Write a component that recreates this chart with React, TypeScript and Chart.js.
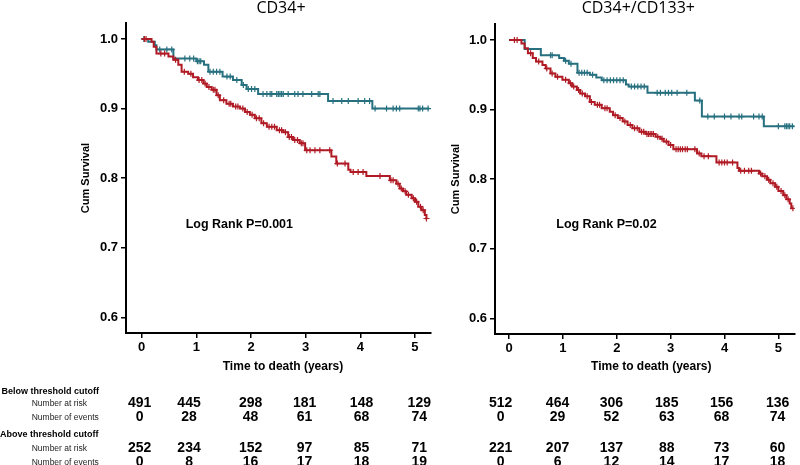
import React, { useEffect, useRef } from "react";
import { Chart, registerables } from "chart.js";

Chart.register(...registerables);

// ---------- axes ----------
const YEAR_TICKS = [0, 1, 2, 3, 4, 5];
const SURV_TICKS = [0.6, 0.7, 0.8, 0.9, 1.0];

// ---------- CD34+ : below threshold (red) ----------
const CD34_BELOW_TIMES = [0.18, 0.22, 0.27, 0.49, 0.58, 0.67, 0.73, 0.85, 0.94, 1.03, 1.13, 1.19, 1.28, 1.37, 1.43, 1.55, 1.67, 1.8, 1.89, 1.98, 2.07, 2.19, 2.29, 2.47, 2.59, 2.68, 2.77, 2.89, 2.99, 3.47, 3.56, 3.78, 3.82, 4.11, 4.54, 4.66, 4.72, 4.78, 4.84, 4.94, 5.0, 5.06, 5.12, 5.18, 5.21];
const CD34_BELOW_SURV = [0.996, 0.989, 0.979, 0.975, 0.97, 0.963, 0.953, 0.95, 0.945, 0.941, 0.936, 0.931, 0.927, 0.919, 0.912, 0.907, 0.903, 0.9, 0.895, 0.891, 0.886, 0.879, 0.874, 0.869, 0.866, 0.859, 0.855, 0.85, 0.84, 0.831, 0.821, 0.812, 0.809, 0.803, 0.797, 0.792, 0.785, 0.781, 0.776, 0.771, 0.766, 0.759, 0.754, 0.747, 0.742];
const CD34_BELOW_CENSOR = [0.05, 0.08, 0.35, 0.42, 0.62, 0.78, 0.9, 1.05, 1.1, 1.16, 1.23, 1.31, 1.34, 1.4, 1.5, 1.6, 1.63, 1.72, 1.76, 1.85, 1.93, 2.02, 2.1, 2.15, 2.23, 2.33, 2.38, 2.43, 2.52, 2.56, 2.63, 2.7, 2.74, 2.8, 2.85, 2.92, 2.95, 3.02, 3.08, 3.17, 3.26, 3.44, 3.58, 3.72, 3.87, 3.96, 4.05, 4.36, 4.56, 4.6, 4.69, 4.75, 4.82, 4.88, 4.97, 5.03, 5.1, 5.15, 5.21];
const CD34_BELOW_END = 5.22;

// ---------- CD34+ : above threshold (teal) ----------
const CD34_ABOVE_TIMES = [0.12, 0.24, 0.27, 0.58, 1.0, 1.14, 1.22, 1.48, 1.67, 1.83, 1.92, 2.13, 3.41, 4.22];
const CD34_ABOVE_SURV = [0.996, 0.991, 0.985, 0.972, 0.968, 0.963, 0.953, 0.946, 0.941, 0.934, 0.928, 0.921, 0.911, 0.9];
const CD34_ABOVE_CENSOR = [0.04, 0.33, 0.46, 0.55, 0.79, 0.88, 0.95, 1.02, 1.05, 1.08, 1.25, 1.31, 1.37, 1.43, 1.56, 1.62, 1.74, 1.86, 1.95, 2.01, 2.07, 2.22, 2.29, 2.35, 2.38, 2.47, 2.5, 2.53, 2.56, 2.59, 2.68, 2.8, 2.86, 2.95, 3.11, 3.23, 3.26, 3.5, 3.66, 3.78, 3.96, 4.08, 4.17, 4.27, 4.48, 4.6, 4.66, 4.72, 5.06, 5.09, 5.14, 5.24];
const CD34_ABOVE_END = 5.26;

// ---------- CD34+/CD133+ : below threshold (red) ----------
const CD133_BELOW_TIMES = [0.23, 0.29, 0.35, 0.44, 0.5, 0.62, 0.68, 0.77, 0.86, 0.99, 1.11, 1.17, 1.26, 1.32, 1.41, 1.5, 1.59, 1.72, 1.87, 1.93, 2.02, 2.11, 2.2, 2.29, 2.42, 2.54, 2.72, 2.81, 2.87, 2.96, 3.05, 3.49, 3.57, 3.85, 4.24, 4.27, 4.64, 4.7, 4.79, 4.85, 4.94, 5.0, 5.09, 5.15, 5.21, 5.24];
const CD133_BELOW_SURV = [0.995, 0.988, 0.981, 0.974, 0.969, 0.964, 0.959, 0.952, 0.947, 0.943, 0.938, 0.933, 0.928, 0.923, 0.919, 0.911, 0.907, 0.902, 0.897, 0.892, 0.888, 0.883, 0.878, 0.873, 0.868, 0.865, 0.861, 0.858, 0.854, 0.849, 0.843, 0.837, 0.833, 0.824, 0.816, 0.812, 0.808, 0.804, 0.799, 0.794, 0.789, 0.783, 0.777, 0.771, 0.765, 0.758];
const CD133_BELOW_CENSOR = [0.1, 0.15, 0.4, 0.55, 0.7, 0.8, 0.9, 1.05, 1.14, 1.2, 1.29, 1.36, 1.45, 1.53, 1.64, 1.68, 1.78, 1.82, 1.97, 2.06, 2.15, 2.25, 2.33, 2.38, 2.46, 2.5, 2.56, 2.59, 2.62, 2.65, 2.68, 2.76, 2.84, 2.92, 3.0, 3.1, 3.14, 3.18, 3.22, 3.27, 3.31, 3.45, 3.53, 3.62, 3.7, 3.9, 3.95, 4.0, 4.05, 4.15, 4.3, 4.37, 4.45, 4.5, 4.67, 4.75, 4.82, 4.9, 4.97, 5.05, 5.12, 5.18, 5.27];
const CD133_BELOW_END = 5.27;

// ---------- CD34+/CD133+ : above threshold (teal) ----------
const CD133_ABOVE_TIMES = [0.29, 0.59, 0.93, 1.02, 1.11, 1.27, 1.5, 1.62, 1.72, 2.17, 2.22, 2.57, 3.45, 3.58, 4.73];
const CD133_ABOVE_SURV = [0.987, 0.978, 0.974, 0.97, 0.966, 0.953, 0.95, 0.946, 0.942, 0.936, 0.933, 0.924, 0.913, 0.89, 0.876];
const CD133_ABOVE_CENSOR = [0.77, 0.8, 1.05, 1.15, 1.3, 1.35, 1.4, 1.45, 1.55, 1.76, 1.82, 1.88, 1.94, 2.0, 2.06, 2.12, 2.27, 2.33, 2.39, 2.45, 2.51, 2.75, 2.81, 2.9, 2.96, 3.02, 3.12, 3.3, 3.54, 3.69, 3.81, 4.0, 4.12, 4.27, 4.32, 4.54, 4.64, 4.7, 5.0, 5.12, 5.15, 5.18, 5.21, 5.26];
const CD133_ABOVE_END = 5.3;

// ---------- numbers at risk / events ----------
const CD34_BELOW_AT_RISK = [491, 445, 298, 181, 148, 129];
const CD34_BELOW_EVENTS = [0, 28, 48, 61, 68, 74];
const CD34_ABOVE_AT_RISK = [252, 234, 152, 97, 85, 71];
const CD34_ABOVE_EVENTS = [0, 8, 16, 17, 18, 19];
const CD133_BELOW_AT_RISK = [512, 464, 306, 185, 156, 136];
const CD133_BELOW_EVENTS = [0, 29, 52, 63, 68, 74];
const CD133_ABOVE_AT_RISK = [221, 207, 137, 88, 73, 60];
const CD133_ABOVE_EVENTS = [0, 6, 12, 14, 17, 18];

const GROUP_LABELS = ["Below threshold cutoff", "Above threshold cutoff"];
const ROW_LABELS = ["Number at risk", "Number of events"];

const RED = "#b01a24";
const TEAL = "#27707f";
const SANS = '"Liberation Sans", Arial, sans-serif';

function survivalAt(times: number[], surv: number[], t: number) {
  let s = 1;
  for (let i = 0; i < times.length; i++) {
    if (times[i] <= t) s = surv[i];
    else break;
  }
  return s;
}

function curve(times: number[], surv: number[], end: number) {
  const pts = [{ x: 0, y: 1 }];
  times.forEach((t, i) => pts.push({ x: t, y: surv[i] }));
  pts.push({ x: end, y: surv[surv.length - 1] });
  return pts;
}

function censors(times: number[], surv: number[], cens: number[]) {
  return cens.map((c) => ({ x: c, y: survivalAt(times, surv, c) }));
}

type KMProps = {
  id: string;
  left: number;
  width: number;
  yWidth: number;
  padTop: number;
  padRight: number;
  xMin: number;
  xMax: number;
  yTitlePad: number;
  title: string;
  titleX: number;
  xTitleX: number;
  xTitleY: number;
  logRank: string;
  logRankAt: [number, number];
  below: [number[], number[], number[], number];
  above: [number[], number[], number[], number];
  table: number[][];
  colShift: number[];
  rowLabels: boolean;
};

function KMChart(p: KMProps) {
  const ref = useRef<HTMLCanvasElement | null>(null);
  useEffect(() => {
    if (!ref.current) return;
    const textPlugin = {
      id: "kmText" + p.id,
      afterDraw(chart: any) {
        const ctx = chart.ctx as CanvasRenderingContext2D;
        const xs = chart.scales.x;
        const ys = chart.scales.y;
        ctx.save();
        ctx.fillStyle = "#000";
        ctx.textBaseline = "alphabetic";
        ctx.textAlign = "center";
        ctx.font = '16px "Open Sans", sans-serif';
        ctx.fillText(p.title, p.titleX, 12.5);
        ctx.font = "bold 12px " + SANS;
        ctx.fillText("Time to death (years)", p.xTitleX, p.xTitleY);
        ctx.textAlign = "left";
        ctx.font = "bold 12.5px " + SANS;
        ctx.fillText(p.logRank, xs.getPixelForValue(p.logRankAt[0]), ys.getPixelForValue(p.logRankAt[1]));

        // table of numbers
        const rowY = [406.7, 420.7, 451.7, 466];
        ctx.textAlign = "center";
        ctx.font = "bold 14px " + SANS;
        p.table.forEach((row, r) => {
          row.forEach((v, i) => {
            ctx.fillText(String(v), xs.getPixelForValue(YEAR_TICKS[i]) + p.colShift[i], rowY[r]);
          });
        });

        if (p.rowLabels) {
          ctx.textAlign = "left";
          ctx.font = "bold 9px " + SANS;
          ctx.fillText(GROUP_LABELS[0], 1.5, 393.5);
          ctx.fillText(GROUP_LABELS[1], 0, 436.7);
          ctx.font = "8.5px " + SANS;
          ctx.fillStyle = "#222";
          ctx.fillText(ROW_LABELS[0], 31.7, 406.2);
          ctx.fillText(ROW_LABELS[1], 31.7, 420.3);
          ctx.fillText(ROW_LABELS[0], 31.7, 451);
          ctx.fillText(ROW_LABELS[1], 31.7, 465);
        }
        ctx.restore();
      },
    };

    const [bT, bS, bC, bE] = p.below;
    const [aT, aS, aC, aE] = p.above;
    const tickFont = { family: SANS, size: 13, weight: "bold" as const };
    const grid = { display: true, drawOnChartArea: false, drawTicks: true, tickLength: 5, color: "#000", lineWidth: 1.5 };
    const border = { display: true, color: "#000", width: 2 };

    const chart = new Chart(ref.current, {
      type: "line",
      data: {
        datasets: [
          { data: curve(bT, bS, bE), borderColor: RED, borderWidth: 2, stepped: "before", pointRadius: 0, fill: false },
          { data: censors(bT, bS, bC), showLine: false, pointStyle: "cross", pointRadius: 3, borderColor: RED, backgroundColor: RED, borderWidth: 1.2 },
          { data: curve(aT, aS, aE), borderColor: TEAL, borderWidth: 2, stepped: "before", pointRadius: 0, fill: false },
          { data: censors(aT, aS, aC), showLine: false, pointStyle: "cross", pointRadius: 3, borderColor: TEAL, backgroundColor: TEAL, borderWidth: 1.2 },
        ] as any,
      },
      options: {
        animation: false,
        responsive: false,
        maintainAspectRatio: false,
        layout: { padding: { top: p.padTop, bottom: 465 - p.padTop - 310 - 30, left: 0, right: p.padRight } },
        plugins: { legend: { display: false }, tooltip: { enabled: false }, title: { display: false } },
        scales: {
          x: {
            type: "linear",
            min: p.xMin,
            max: p.xMax,
            afterBuildTicks: (s: any) => {
              s.ticks = YEAR_TICKS.map((v) => ({ value: v }));
            },
            afterFit: (s: any) => {
              s.height = 30;
            },
            ticks: { font: tickFont, color: "#000", padding: 2, maxRotation: 0, callback: (v: any) => String(v) },
            grid,
            border,
          },
          y: {
            type: "linear",
            min: 0.5774,
            max: 1.023,
            afterBuildTicks: (s: any) => {
              s.ticks = SURV_TICKS.map((v) => ({ value: v }));
            },
            afterFit: (s: any) => {
              s.width = p.yWidth;
            },
            ticks: { font: tickFont, color: "#000", padding: 3, callback: (v: any) => Number(v).toFixed(1) },
            title: {
              display: true,
              text: "Cum Survival",
              color: "#000",
              font: { family: SANS, size: 11, weight: "bold" },
              padding: { top: p.yTitlePad, bottom: 0 },
            },
            grid,
            border,
          },
        },
      } as any,
      plugins: [textPlugin],
    });
    return () => chart.destroy();
  }, []);
  return (
    <canvas
      ref={ref}
      width={p.width}
      height={465}
      style={{ position: "absolute", left: p.left, top: 0, width: p.width, height: 465 }}
    />
  );
}

export default function App() {
  return (
    <div style={{ position: "fixed", left: 0, top: 0, width: 800, height: 465, background: "#fff", overflow: "hidden" }}>
      <KMChart
        id="a"
        left={0}
        width={440}
        yWidth={126}
        padTop={23}
        padRight={9}
        xMin={-0.287}
        xMax={5.293}
        yTitlePad={79.4}
        title="CD34+"
        titleX={281}
        xTitleX={283}
        xTitleY={369.5}
        logRank="Log Rank P=0.001"
        logRankAt={[0.805, 0.729]}
        below={[CD34_BELOW_TIMES, CD34_BELOW_SURV, CD34_BELOW_CENSOR, CD34_BELOW_END]}
        above={[CD34_ABOVE_TIMES, CD34_ABOVE_SURV, CD34_ABOVE_CENSOR, CD34_ABOVE_END]}
        table={[CD34_BELOW_AT_RISK, CD34_BELOW_EVENTS, CD34_ABOVE_AT_RISK, CD34_ABOVE_EVENTS]}
        colShift={[-2, -7.3, -0.4, -1.1, 1.2, 4.3]}
        rowLabels={true}
      />
      <KMChart
        id="b"
        left={440}
        width={360}
        yWidth={55}
        padTop={24}
        padRight={0}
        xMin={-0.261}
        xMax={5.305}
        yTitlePad={9}
        title="CD34+/CD133+"
        titleX={198.3}
        xTitleX={211.3}
        xTitleY={370}
        logRank="Log Rank P=0.02"
        logRankAt={[0.876, 0.73]}
        below={[CD133_BELOW_TIMES, CD133_BELOW_SURV, CD133_BELOW_CENSOR, CD133_BELOW_END]}
        above={[CD133_ABOVE_TIMES, CD133_ABOVE_SURV, CD133_ABOVE_CENSOR, CD133_ABOVE_END]}
        table={[CD133_BELOW_AT_RISK, CD133_BELOW_EVENTS, CD133_ABOVE_AT_RISK, CD133_ABOVE_EVENTS]}
        colShift={[-8.5, -5.4, -5.4, -3.9, -2.9, -0.8]}
        rowLabels={false}
      />
    </div>
  );
}
